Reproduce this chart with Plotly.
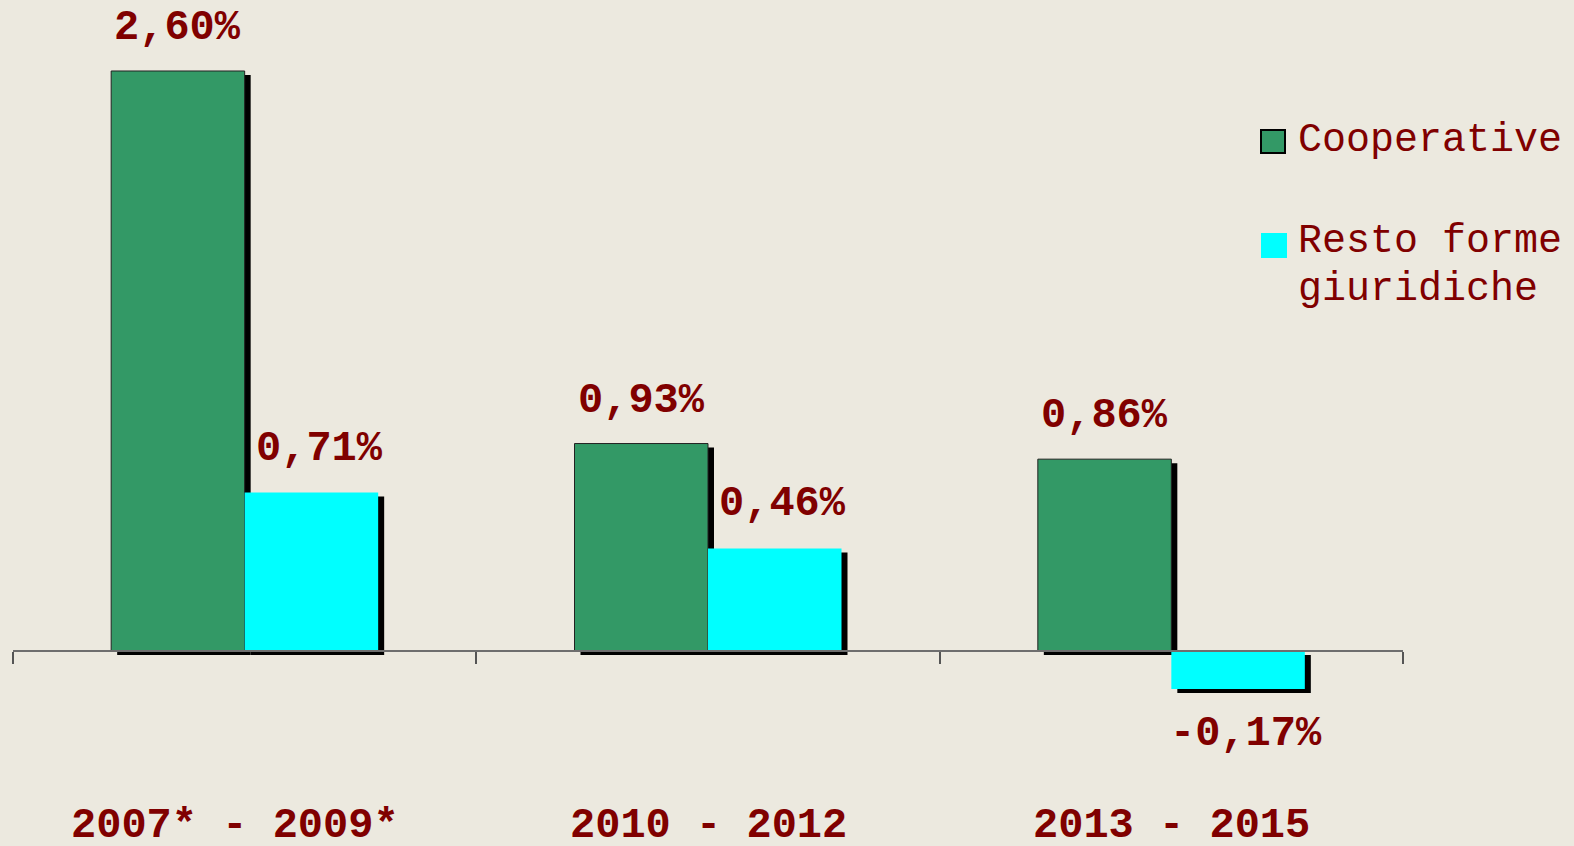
import plotly.graph_objects as go

categories = ["2007* - 2009*", "2010 - 2012", "2013 - 2015"]
cooperative = [2.60, 0.93, 0.86]
resto = [0.71, 0.46, -0.17]
series_names = ["Cooperative", "Resto forme giuridiche"]

BG = "#ECE9DF"
GREEN = "#339966"
CYAN = "#00FFFF"
TXT = "#800000"
FONT = "Courier New, Liberation Mono, monospace"

# geometry helpers (pixel -> data conversion for style offsets)
W, H = 1574, 846
ML, MR = 13, 171
plot_w = W - ML - MR
px_x = plot_w / 3.0          # pixels per category unit
y0_px = 651
px_y = 223.08                # pixels per percent unit
yr = [-(H - y0_px) / px_y, y0_px / px_y]

bw = 133.5 / px_x            # bar width in category units
sdx = 6 / px_x               # shadow offset x
sdy = 4 / px_y               # shadow offset y

xi = list(range(len(categories)))

fig = go.Figure()
# shadows
fig.add_trace(go.Bar(x=xi, y=cooperative, base=[-sdy] * 3, width=bw, offset=-bw + sdx,
                     marker=dict(color="black", line=dict(width=0)), hoverinfo="skip", showlegend=False))
fig.add_trace(go.Bar(x=xi, y=cooperative, width=bw, offset=-bw, name=series_names[0],
                     marker=dict(color=GREEN, line=dict(color="#222", width=1)), showlegend=False))
fig.add_trace(go.Bar(x=xi, y=resto, base=[-sdy] * 3, width=bw, offset=sdx,
                     marker=dict(color="black", line=dict(width=0)), hoverinfo="skip", showlegend=False))
fig.add_trace(go.Bar(x=xi, y=resto, width=bw, offset=0, name=series_names[1],
                     marker=dict(color=CYAN, line=dict(width=0)), showlegend=False))

def fmt(v):
    return f"{v:.2f}%".replace(".", ",")

anns = []
for i, v in enumerate(cooperative):
    anns.append(dict(x=i - bw / 2, y=v, xref="x", yref="y", text=fmt(v), showarrow=False,
                     yshift=43 if v >= 0 else -45, font=dict(family=FONT, size=42, color=TXT, weight="bold")))
for i, v in enumerate(resto):
    anns.append(dict(x=i + bw / 2, y=v, xref="x", yref="y", text=fmt(v), showarrow=False, xshift=8,
                     yshift=44 if v >= 0 else -45, font=dict(family=FONT, size=42, color=TXT, weight="bold")))
for i, c in enumerate(categories):
    anns.append(dict(x=i, y=(H - 826) / H, xref="x", yref="paper", text=c, showarrow=False,
                     xshift=-10 if i == 0 else 0,
                     yanchor="middle", font=dict(family=FONT, size=42, color=TXT, weight="bold")))

def px2paper_x(p):
    return (p - ML) / plot_w

def px2paper_y(p):
    return (H - p) / H

# custom legend
legend_lines = [("Cooperative", 140), ("Resto forme", 242), ("giuridiche", 289)]
for t, yy in legend_lines:
    anns.append(dict(x=px2paper_x(1296), y=px2paper_y(yy), xref="paper", yref="paper", text=t,
                     showarrow=False, xanchor="left", yanchor="middle",
                     font=dict(family=FONT, size=40, color=TXT)))
shapes = [
    dict(type="rect", xref="paper", yref="paper", x0=px2paper_x(1261), x1=px2paper_x(1285),
         y0=px2paper_y(153), y1=px2paper_y(130), fillcolor=GREEN, line=dict(color="black", width=2)),
    dict(type="rect", xref="paper", yref="paper", x0=px2paper_x(1261), x1=px2paper_x(1287),
         y0=px2paper_y(258), y1=px2paper_y(233), fillcolor=CYAN, line=dict(width=0)),
]

fig.update_layout(
    width=W, height=H,
    margin=dict(l=ML, r=MR, t=0, b=0, pad=0),
    paper_bgcolor=BG, plot_bgcolor=BG,
    barmode="overlay",
    showlegend=False,
    annotations=anns,
    shapes=shapes,
    xaxis=dict(type="linear", range=[-0.5, 2.5], anchor="free", position=(H - y0_px) / H,
               showgrid=False, zeroline=False, showline=True, linecolor="#6e6e6e", linewidth=1.5,
               tickmode="array", tickvals=[-0.5, 0.5, 1.5, 2.5], ticktext=["", "", "", ""],
               ticks="outside", ticklen=12, tickcolor="#555", tickwidth=1.5, fixedrange=True),
    yaxis=dict(range=yr, visible=False, showgrid=False, zeroline=False, fixedrange=True),
)

fig.write_html("out.html", config={"displayModeBar": False},
               post_script="document.body.style.margin='0';document.body.style.overflow='hidden';document.body.style.background='" + BG + "';")
